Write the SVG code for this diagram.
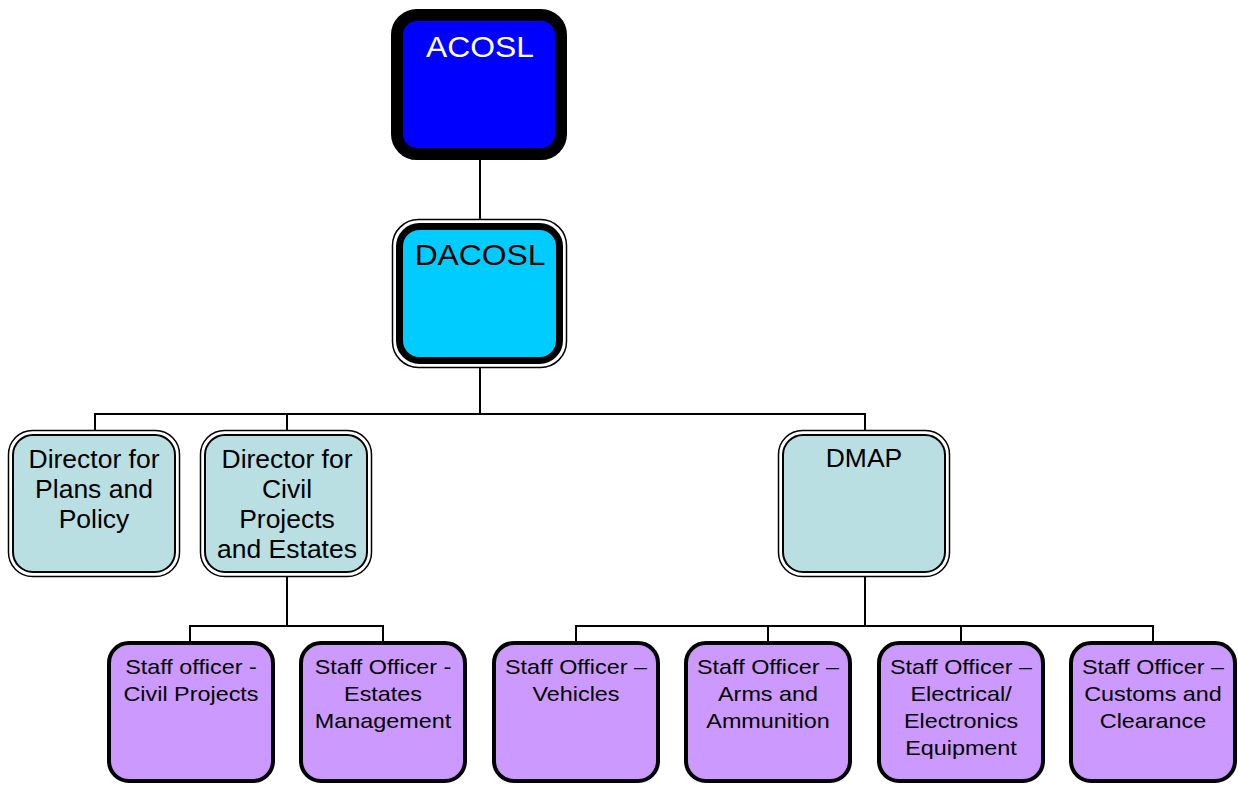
<svg xmlns="http://www.w3.org/2000/svg" width="1238" height="785" viewBox="0 0 1238 785">
<style>
.t{font-family:"Liberation Sans",Arial,sans-serif;text-anchor:middle;fill:#000}
.big{font-size:30px}
.dir{font-size:25px}
.so{font-size:20.5px}
.conn{stroke:#000;stroke-width:2;fill:none}
.dout{fill:#fff;stroke:#000;stroke-width:1.5}
.din{fill:#BADFE3;stroke:#000;stroke-width:2}
.staff{fill:#CC99FF;stroke:#000;stroke-width:4}
</style>
<rect width="1238" height="785" fill="#fff"/>
<g id="connectors">
<path class="conn" d="M480 160V219"/>
<path class="conn" d="M480 368V414"/>
<path class="conn" d="M95 414H865M95 413V431M287 413V431M865 413V431"/>
<path class="conn" d="M287 577V626M190 626H383M190 625V642M383 625V642"/>
<path class="conn" d="M865 577V626M576 626H1153M576 625V642M768 625V642M961 625V642M1153 625V642"/>
</g>
<g id="acosl">
<rect x="397" y="15" width="164" height="139" rx="20" fill="#0000FF" stroke="#000" stroke-width="12"/>
<g transform="translate(480,0) scale(1.06,1)"><text class="t big" x="0" y="57" style="fill:#fff">ACOSL</text></g>
</g>
<g id="dacosl">
<rect x="392.5" y="219.5" width="174" height="148" rx="26" fill="#fff" stroke="#000" stroke-width="1.5"/>
<rect x="399.5" y="226.5" width="160" height="134" rx="20" fill="#00CCFF" stroke="#000" stroke-width="7"/>
<g transform="translate(480,0) scale(1.06,1)"><text class="t big" x="0" y="265">DACOSL</text></g>
</g>
<g id="dir-plans">
<rect class="dout" x="8.5" y="430.5" width="171" height="146" rx="24"/>
<rect class="din" x="13" y="435" width="162" height="137" rx="20"/>
<g transform="translate(94,0) scale(1.06,1)">
<text class="t dir" x="0" y="468">Director for</text>
<text class="t dir" x="0" y="498">Plans and</text>
<text class="t dir" x="0" y="528">Policy</text>
</g>
</g>
<g id="dir-civil">
<rect class="dout" x="200.5" y="430.5" width="171" height="146" rx="24"/>
<rect class="din" x="205" y="435" width="162" height="137" rx="20"/>
<g transform="translate(287,0) scale(1.06,1)">
<text class="t dir" x="0" y="468">Director for</text>
<text class="t dir" x="0" y="498">Civil</text>
<text class="t dir" x="0" y="528">Projects</text>
<text class="t dir" x="0" y="558">and Estates</text>
</g>
</g>
<g id="dmap">
<rect class="dout" x="778.5" y="430.5" width="171" height="146" rx="24"/>
<rect class="din" x="783" y="435" width="162" height="137" rx="20"/>
<g transform="translate(864,0) scale(1.06,1)"><text class="t dir" x="0" y="467">DMAP</text></g>
</g>
<g id="so-civil">
<rect class="staff" x="109" y="643" width="164" height="138" rx="20"/>
<g transform="translate(191,0) scale(1.14,1)">
<text class="t so" x="0" y="674">Staff officer -</text>
<text class="t so" x="0" y="701">Civil Projects</text>
</g>
</g>
<g id="so-estates">
<rect class="staff" x="301" y="643" width="164" height="138" rx="20"/>
<g transform="translate(383,0) scale(1.14,1)">
<text class="t so" x="0" y="674">Staff Officer -</text>
<text class="t so" x="0" y="701">Estates</text>
<text class="t so" x="0" y="728">Management</text>
</g>
</g>
<g id="so-vehicles">
<rect class="staff" x="494" y="643" width="164" height="138" rx="20"/>
<g transform="translate(576,0) scale(1.14,1)">
<text class="t so" x="0" y="674">Staff Officer –</text>
<text class="t so" x="0" y="701">Vehicles</text>
</g>
</g>
<g id="so-arms">
<rect class="staff" x="686" y="643" width="164" height="138" rx="20"/>
<g transform="translate(768,0) scale(1.14,1)">
<text class="t so" x="0" y="674">Staff Officer –</text>
<text class="t so" x="0" y="701">Arms and</text>
<text class="t so" x="0" y="728">Ammunition</text>
</g>
</g>
<g id="so-electrical">
<rect class="staff" x="879" y="643" width="164" height="138" rx="20"/>
<g transform="translate(961,0) scale(1.14,1)">
<text class="t so" x="0" y="674">Staff Officer –</text>
<text class="t so" x="0" y="701">Electrical/</text>
<text class="t so" x="0" y="728">Electronics</text>
<text class="t so" x="0" y="755">Equipment</text>
</g>
</g>
<g id="so-customs">
<rect class="staff" x="1071" y="643" width="164" height="138" rx="20"/>
<g transform="translate(1153,0) scale(1.14,1)">
<text class="t so" x="0" y="674">Staff Officer –</text>
<text class="t so" x="0" y="701">Customs and</text>
<text class="t so" x="0" y="728">Clearance</text>
</g>
</g>
</svg>
